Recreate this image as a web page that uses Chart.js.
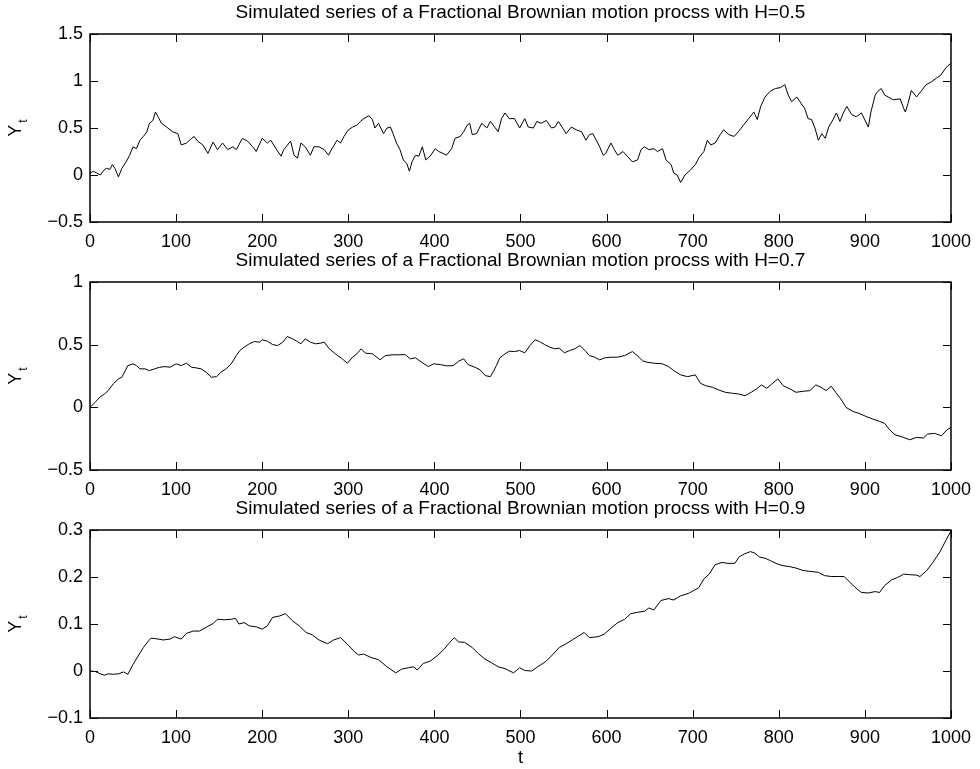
<!DOCTYPE html>
<html>
<head>
<meta charset="utf-8">
<script src="https://cdn.jsdelivr.net/npm/chart.js@4.4.1/dist/chart.umd.min.js"></script>
<style>
  html, body { margin: 0; padding: 0; background: #fff; }
  #wrap { position: relative; width: 980px; height: 769px; }
  #wrap canvas { position: absolute; left: 0; }
</style>
</head>
<body>
<div id="wrap">
  <canvas id="c05" width="980" height="248" style="top:0"></canvas>
  <canvas id="c07" width="980" height="248" style="top:248px"></canvas>
  <canvas id="c09" width="980" height="273" style="top:496px"></canvas>
</div>
<script>
// sampled paths of the three simulated series (t, Y_t)
const tH05 = [0,4,8,12,16,19,23,26,29,33,37,42,46,50,54,58,62,66,69,73,76,79,83,89,93,96,102,106,112,118,121,125,131,137,143,148,154,160,166,170,177,183,189,193,200,206,210,216,222,225,233,237,241,245,250,256,260,266,272,277,281,287,291,295,300,305,310,314,318,324,328,331,335,341,345,349,352,356,360,364,368,371,374,378,382,386,390,395,401,405,410,414,420,424,430,434,438,441,444,449,455,461,465,470,474,478,482,487,493,499,505,509,515,519,524,530,536,540,544,549,553,559,565,571,576,580,584,588,592,596,599,605,609,613,619,624,630,636,640,644,649,655,659,665,669,675,678,682,686,691,697,703,707,713,717,721,726,732,736,742,748,753,759,765,771,775,779,784,790,796,802,807,811,815,821,826,830,834,838,842,846,850,854,858,863,867,871,875,879,885,890,896,904,907,912,915,919,923,927,933,941,945,947,950,954,960,966,971,977,983,988,994,1000];
const yH05 = [0.02,0.04,0.02,0.00,0.05,0.07,0.06,0.11,0.07,-0.02,0.07,0.14,0.21,0.30,0.28,0.37,0.41,0.46,0.55,0.58,0.67,0.62,0.55,0.51,0.48,0.46,0.44,0.32,0.34,0.39,0.41,0.36,0.32,0.23,0.35,0.27,0.34,0.27,0.30,0.27,0.39,0.36,0.30,0.25,0.39,0.34,0.37,0.28,0.20,0.27,0.36,0.21,0.18,0.34,0.30,0.21,0.30,0.30,0.27,0.21,0.28,0.37,0.34,0.41,0.48,0.51,0.53,0.57,0.60,0.63,0.59,0.50,0.55,0.44,0.50,0.51,0.44,0.34,0.27,0.16,0.12,0.04,0.14,0.21,0.20,0.30,0.16,0.20,0.28,0.25,0.23,0.21,0.28,0.39,0.41,0.46,0.53,0.55,0.43,0.44,0.55,0.50,0.57,0.51,0.46,0.60,0.66,0.60,0.60,0.50,0.60,0.51,0.50,0.57,0.55,0.58,0.50,0.51,0.57,0.50,0.44,0.51,0.48,0.46,0.37,0.43,0.44,0.37,0.30,0.21,0.23,0.34,0.27,0.21,0.25,0.20,0.14,0.16,0.27,0.30,0.27,0.28,0.25,0.28,0.16,0.11,0.02,0.00,-0.08,0.00,0.05,0.11,0.18,0.25,0.37,0.32,0.34,0.43,0.48,0.43,0.41,0.46,0.53,0.60,0.67,0.59,0.73,0.83,0.89,0.92,0.93,0.96,0.85,0.78,0.83,0.76,0.71,0.60,0.59,0.50,0.37,0.44,0.39,0.51,0.59,0.66,0.57,0.66,0.73,0.64,0.62,0.66,0.51,0.67,0.85,0.89,0.92,0.85,0.83,0.80,0.81,0.71,0.67,0.76,0.90,0.83,0.90,0.96,0.99,1.03,1.06,1.14,1.19];

const tH07 = [0,6,12,17,21,27,33,37,41,44,50,54,58,64,69,75,81,87,93,100,106,112,118,123,129,135,141,147,152,158,164,170,174,179,185,191,197,200,206,212,218,224,229,235,241,245,250,256,262,268,272,278,285,293,299,305,310,315,320,328,337,343,351,358,366,372,378,385,393,399,407,414,422,428,434,439,447,453,459,465,468,472,476,482,487,493,499,505,511,517,522,528,534,540,545,551,557,563,569,575,580,586,592,598,605,613,621,630,636,642,647,655,665,672,678,686,694,703,709,715,723,730,738,746,753,761,768,774,780,786,792,799,805,813,820,828,836,843,849,855,861,866,872,878,886,893,901,909,917,923,929,935,943,952,960,968,973,981,989,995,1000];
const yH07 = [0.00,0.04,0.085,0.107,0.133,0.187,0.227,0.24,0.293,0.333,0.347,0.333,0.307,0.307,0.293,0.307,0.32,0.325,0.32,0.347,0.333,0.352,0.32,0.315,0.307,0.28,0.24,0.245,0.28,0.307,0.347,0.413,0.453,0.48,0.507,0.525,0.52,0.539,0.528,0.501,0.493,0.52,0.565,0.547,0.525,0.507,0.547,0.52,0.507,0.512,0.52,0.467,0.427,0.387,0.352,0.40,0.427,0.467,0.432,0.427,0.379,0.413,0.419,0.419,0.421,0.387,0.395,0.36,0.325,0.347,0.341,0.331,0.333,0.368,0.387,0.341,0.32,0.299,0.253,0.245,0.28,0.333,0.395,0.427,0.448,0.445,0.453,0.435,0.493,0.539,0.525,0.501,0.48,0.467,0.472,0.435,0.453,0.467,0.493,0.453,0.413,0.40,0.379,0.395,0.40,0.40,0.413,0.445,0.41,0.37,0.36,0.352,0.347,0.325,0.293,0.259,0.245,0.259,0.192,0.173,0.16,0.139,0.12,0.112,0.107,0.093,0.12,0.147,0.179,0.152,0.187,0.227,0.173,0.147,0.12,0.128,0.133,0.179,0.16,0.133,0.168,0.12,0.067,0.00,-0.032,-0.048,-0.072,-0.093,-0.112,-0.128,-0.181,-0.219,-0.235,-0.259,-0.24,-0.245,-0.213,-0.208,-0.227,-0.181,-0.16];

const tH09 = [0,6,12,17,21,27,33,39,44,50,56,62,68,71,79,85,93,98,106,112,120,127,135,143,148,156,164,169,173,179,185,193,200,206,212,220,227,235,243,251,258,266,276,283,291,299,307,312,318,326,335,345,355,362,370,376,380,387,395,403,411,418,423,428,435,444,451,459,466,474,482,492,499,505,513,520,530,538,545,553,560,568,574,580,590,597,605,613,621,628,636,644,649,655,663,672,678,686,695,701,707,713,719,726,734,741,749,754,760,767,772,778,784,790,798,805,813,820,828,836,846,853,861,869,876,882,888,896,904,912,917,923,931,938,945,952,960,964,972,979,987,995,1000];
const yH09 = [0.000,-0.001,-0.006,-0.009,-0.006,-0.007,-0.006,-0.002,-0.007,0.014,0.032,0.050,0.064,0.070,0.068,0.066,0.068,0.073,0.068,0.080,0.085,0.085,0.093,0.101,0.110,0.109,0.110,0.112,0.100,0.103,0.096,0.094,0.089,0.096,0.114,0.117,0.122,0.107,0.096,0.082,0.077,0.066,0.058,0.066,0.071,0.057,0.041,0.034,0.036,0.029,0.024,0.009,-0.004,0.004,0.007,0.009,0.002,0.016,0.021,0.032,0.046,0.061,0.071,0.062,0.061,0.050,0.037,0.025,0.018,0.009,0.005,-0.004,0.007,0.001,0.000,0.009,0.021,0.036,0.050,0.058,0.066,0.075,0.082,0.071,0.073,0.078,0.091,0.103,0.110,0.122,0.125,0.127,0.134,0.130,0.150,0.154,0.151,0.160,0.165,0.171,0.177,0.196,0.206,0.226,0.231,0.229,0.229,0.243,0.249,0.254,0.251,0.242,0.240,0.235,0.228,0.224,0.222,0.219,0.214,0.212,0.210,0.203,0.201,0.201,0.201,0.190,0.179,0.167,0.166,0.169,0.167,0.182,0.194,0.199,0.206,0.205,0.204,0.201,0.214,0.231,0.253,0.281,0.298];

// axis limits and tick steps
const xLim = [0, 1000];
const xStep = 100;
const yLimH05 = [-0.5, 1.5];
const yLimH07 = [-0.5, 1];
const yLimH09 = [-0.1, 0.3];
const yStepH05 = 0.5;
const yStepH07 = 0.5;
const yStepH09 = 0.1;

const FONT = '"Liberation Sans", Arial, Helvetica, sans-serif';
const TICK_LEN = 8;

// boxed axes with inward ticks on all four sides, plus title and labels
const matlabAxes = {
  id: 'matlabAxes',
  afterDatasetsDraw(chart, args, opts) {
    const { ctx, chartArea: a, scales: { x, y } } = chart;
    ctx.save();
    ctx.strokeStyle = '#000';
    ctx.lineWidth = 1;
    ctx.beginPath();
    x.ticks.forEach(tk => {
      const px = Math.round(x.getPixelForValue(tk.value)) + 0.5;
      ctx.moveTo(px, a.bottom); ctx.lineTo(px, a.bottom - TICK_LEN);
      ctx.moveTo(px, a.top); ctx.lineTo(px, a.top + TICK_LEN);
    });
    y.ticks.forEach(tk => {
      const py = Math.round(y.getPixelForValue(tk.value)) + 0.5;
      ctx.moveTo(a.left, py); ctx.lineTo(a.left + TICK_LEN, py);
      ctx.moveTo(a.right, py); ctx.lineTo(a.right - TICK_LEN, py);
    });
    ctx.stroke();
    ctx.lineWidth = 1.5;
    ctx.strokeRect(a.left, a.top, a.right - a.left, a.bottom - a.top);

    ctx.fillStyle = '#000';
    ctx.font = '19px ' + FONT;
    ctx.textAlign = 'center';
    ctx.textBaseline = 'middle';
    ctx.fillText(opts.title, (a.left + a.right) / 2, a.top - 21);
    if (opts.xLabel) {
      ctx.font = '18px ' + FONT;
      ctx.fillText(opts.xLabel, (a.left + a.right) / 2, a.bottom + 40);
    }

    // Y with subscript t, rotated
    ctx.translate(21, (a.top + a.bottom) / 2);
    ctx.rotate(-Math.PI / 2);
    ctx.textAlign = 'left';
    ctx.textBaseline = 'alphabetic';
    ctx.font = '18px ' + FONT;
    const wY = ctx.measureText('Y').width;
    ctx.font = '12px ' + FONT;
    const wT = ctx.measureText('t').width;
    const x0 = -(wY + wT + 2) / 2;
    ctx.font = '18px ' + FONT;
    ctx.fillText('Y', x0, 0);
    ctx.font = '12px ' + FONT;
    ctx.fillText('t', x0 + wY + 2, 6);
    ctx.restore();
  }
};

function fmtTick(v) {
  const s = String(Number(v.toFixed(2)));
  return s.replace('-', '\u2212');
}

function makePanel(id, tVals, yVals, yLim, yStep, title, xLabel) {
  const points = tVals.map((t, i) => ({ x: t, y: yVals[i] }));
  return new Chart(document.getElementById(id), {
    type: 'line',
    data: {
      datasets: [{
        data: points,
        borderColor: '#000',
        borderWidth: 1,
        pointRadius: 0,
        tension: 0,
        fill: false
      }]
    },
    options: {
      responsive: false,
      animation: false,
      devicePixelRatio: 1,
      layout: { padding: { top: 34, right: 25, left: 0, bottom: xLabel ? 25 : 0 } },
      plugins: {
        legend: { display: false },
        tooltip: { enabled: false },
        matlabAxes: { title, xLabel }
      },
      scales: {
        x: {
          type: 'linear',
          min: xLim[0],
          max: xLim[1],
          grid: { display: false, drawTicks: false },
          border: { display: false },
          afterFit: s => { s.height = 26; },
          ticks: {
            stepSize: xStep,
            maxRotation: 0,
            autoSkip: false,
            padding: 9,
            color: '#000',
            font: { family: FONT, size: 18 },
            callback: fmtTick
          }
        },
        y: {
          min: yLim[0],
          max: yLim[1],
          grid: { display: false, drawTicks: false },
          border: { display: false },
          afterFit: s => { s.width = 90; },
          ticks: {
            stepSize: yStep,
            padding: 7,
            color: '#000',
            font: { family: FONT, size: 18 },
            callback: fmtTick
          }
        }
      }
    },
    plugins: [matlabAxes]
  });
}

makePanel('c05', tH05, yH05, yLimH05, yStepH05,
  'Simulated series of a Fractional Brownian motion procss with H=0.5');
makePanel('c07', tH07, yH07, yLimH07, yStepH07,
  'Simulated series of a Fractional Brownian motion procss with H=0.7');
makePanel('c09', tH09, yH09, yLimH09, yStepH09,
  'Simulated series of a Fractional Brownian motion procss with H=0.9', 't');
</script>
</body>
</html>
